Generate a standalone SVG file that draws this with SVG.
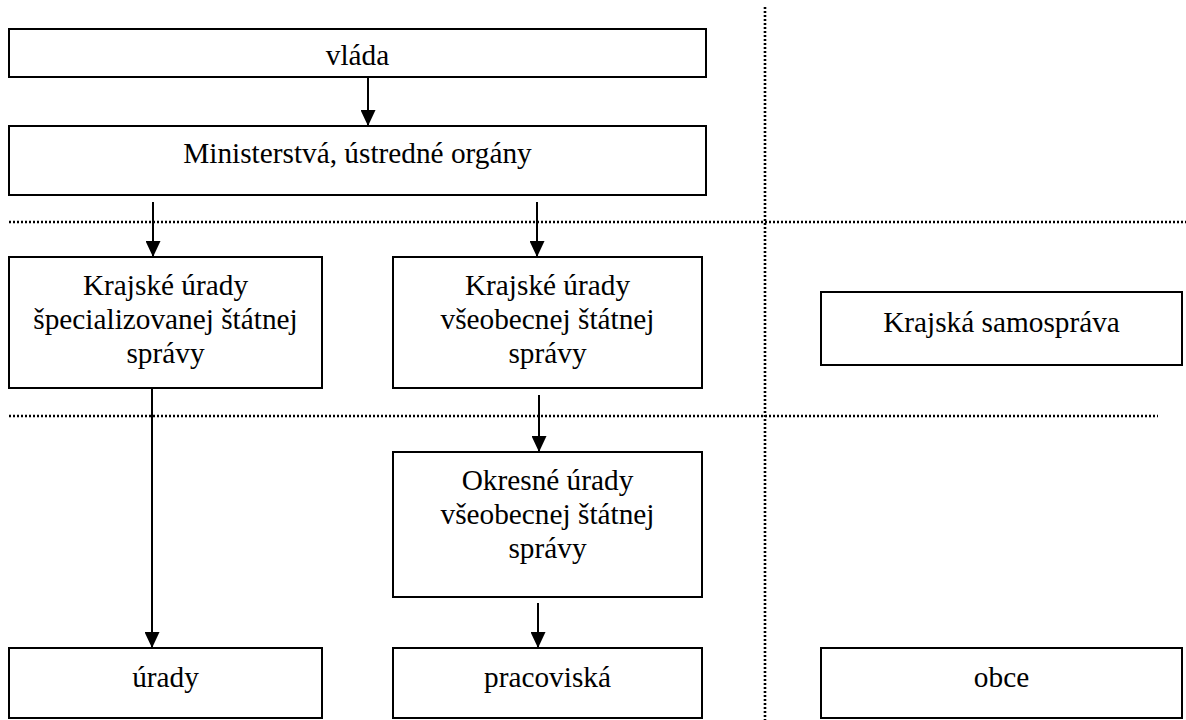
<svg xmlns="http://www.w3.org/2000/svg" width="1186" height="720" viewBox="0 0 1186 720">
  <style>
    .box { fill: #ffffff; stroke: #000000; stroke-width: 2; }
    .lbl { font-family: "Liberation Serif", "Times New Roman", Times, "DejaVu Serif", serif; font-size: 29.3px; fill: #000000; text-anchor: middle; }
    .sep { stroke: #000000; stroke-width: 2.6; stroke-dasharray: 2 2; fill: none; }
    .link { stroke: #000000; stroke-width: 2; fill: none; marker-end: url(#head); }
  </style>
  <defs>
    <!-- solid triangular arrowhead, tip at the end of the line -->
    <marker id="head" markerUnits="userSpaceOnUse" markerWidth="16" markerHeight="15" viewBox="0 0 16 15" refX="16" refY="7.5" orient="auto">
      <path d="M0,0 L16,7.5 L0,15 Z" fill="#000000"/>
    </marker>
  </defs>
  <rect width="1186" height="720" fill="#ffffff"/>

  <!-- level separators -->
  <g id="separators">
    <line class="sep" x1="765" y1="7" x2="765" y2="720"/>
    <line class="sep" x1="9" y1="222" x2="1186" y2="222"/>
    <line class="sep" x1="9" y1="416" x2="1158" y2="416"/>
  </g>

  <g id="node-vlada">
    <rect class="box" x="9" y="29" width="697" height="48"/>
    <text class="lbl" x="357.5" y="65">vláda</text>
  </g>
  <g id="node-ministerstva">
    <rect class="box" x="9" y="126" width="697" height="69"/>
    <text class="lbl" x="357.5" y="163">Ministerstvá, ústredné orgány</text>
  </g>
  <g id="node-kraj-specializovana">
    <rect class="box" x="9" y="257" width="313" height="131"/>
    <text class="lbl" x="165.5" y="295">Krajské úrady</text>
    <text class="lbl" x="165.5" y="329">špecializovanej štátnej</text>
    <text class="lbl" x="165.5" y="363">správy</text>
  </g>
  <g id="node-kraj-vseobecna">
    <rect class="box" x="393" y="257" width="309" height="131"/>
    <text class="lbl" x="547.5" y="295">Krajské úrady</text>
    <text class="lbl" x="547.5" y="329">všeobecnej štátnej</text>
    <text class="lbl" x="547.5" y="363">správy</text>
  </g>
  <g id="node-kraj-samosprava">
    <rect class="box" x="821" y="292" width="361" height="73"/>
    <text class="lbl" x="1001.5" y="332">Krajská samospráva</text>
  </g>
  <g id="node-okres-vseobecna">
    <rect class="box" x="393" y="452" width="309" height="145"/>
    <text class="lbl" x="547.5" y="490">Okresné úrady</text>
    <text class="lbl" x="547.5" y="524">všeobecnej štátnej</text>
    <text class="lbl" x="547.5" y="558">správy</text>
  </g>
  <g id="node-urady">
    <rect class="box" x="9" y="648" width="313" height="70"/>
    <text class="lbl" x="165.5" y="687">úrady</text>
  </g>
  <g id="node-pracoviska">
    <rect class="box" x="393" y="648" width="309" height="70"/>
    <text class="lbl" x="547.5" y="687">pracoviská</text>
  </g>
  <g id="node-obce">
    <rect class="box" x="821" y="648" width="361" height="70"/>
    <text class="lbl" x="1001.5" y="687">obce</text>
  </g>

  <!-- connectors -->
  <g id="connectors">
    <line class="link" x1="368" y1="77" x2="368" y2="126"/>
    <line class="link" x1="153" y1="202" x2="153" y2="257"/>
    <line class="link" x1="537" y1="202" x2="537" y2="257"/>
    <line class="link" x1="152" y1="388" x2="152" y2="648"/>
    <line class="link" x1="539" y1="395" x2="539" y2="452"/>
    <line class="link" x1="538" y1="603" x2="538" y2="648"/>
  </g>
</svg>
